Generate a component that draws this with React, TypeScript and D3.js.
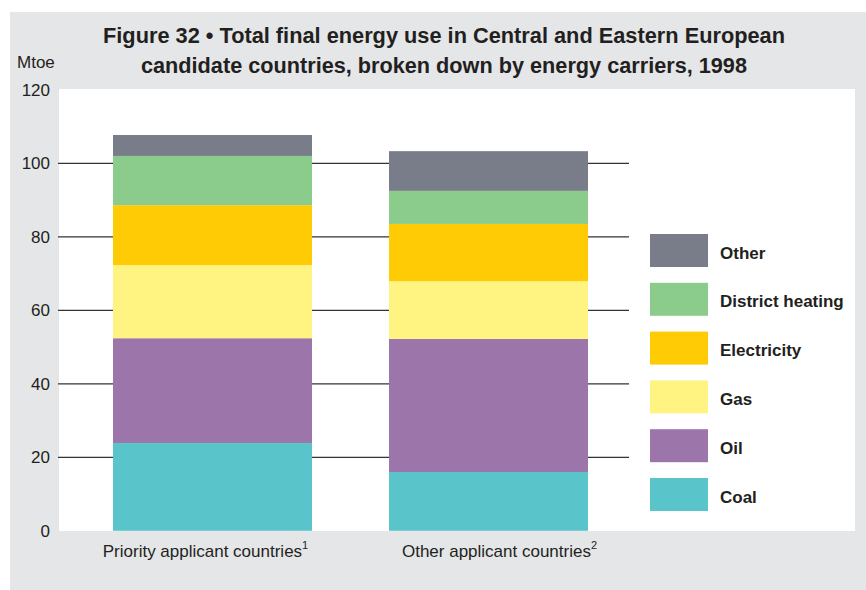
import React from "react";
import * as d3 from "d3";

const categories = ["Priority applicant countries", "Other applicant countries"];
const superscripts = ["1", "2"];
const carriers = ["Coal", "Oil", "Gas", "Electricity", "District heating", "Other"];
const coal = [23.9, 16.0];
const oil = [28.5, 36.2];
const gas = [19.9, 15.7];
const electricity = [16.3, 15.6];
const districtHeating = [13.4, 9.0];
const other = [5.7, 10.8];
const yTicks = [0, 20, 40, 60, 80, 100, 120];
const colors = ["#59c5ca", "#9c75aa", "#fff482", "#ffcb05", "#8bcb8c", "#797d8a"];
const titleLines = [
  "Figure 32 \u2022 Total final energy use in Central and Eastern European",
  "candidate countries, broken down by energy carriers, 1998",
];

const W = 866;
const H = 590;

export default function App() {
  const seriesValues = [coal, oil, gas, electricity, districtHeating, other];
  const rows = categories.map((c, i) => {
    const r: any = { category: c };
    carriers.forEach((k, j) => (r[k] = seriesValues[j][i]));
    return r;
  });
  const stack = d3.stack<any>().keys(carriers)(rows);

  const y = d3.scaleLinear().domain([0, 120]).range([530.8, 89.8]);
  const x = d3.scaleBand().domain(categories).range([57.8, 643.2]).paddingInner(0.279).paddingOuter(0.2);

  const color = d3.scaleOrdinal<string, string>().domain(carriers).range(colors);
  const legendOrder = carriers.slice().reverse();
  const textColor = "#231f20";
  const font = "Arial, 'Liberation Sans', Helvetica, sans-serif";
  const labelShift = [-7, 11];

  return (
    <svg width={W} height={H} style={{ position: "absolute", left: 0, top: 0 }}>
      <rect x={10} y={12} width={W - 10} height={H - 12} fill="#e5e6e8" />
      <rect x={59} y={89} width={796} height={442} fill="#ffffff" />
      {titleLines.map((t, i) => (
        <text
          key={i}
          x={444}
          y={43 + i * 30}
          textAnchor="middle"
          fontFamily="'Liberation Sans Narrow', 'Arial Narrow', Arial, sans-serif"
          fontWeight="bold"
          fontSize={22}
          fill={textColor}
          textLength={i === 0 ? 682 : 606}
          lengthAdjust="spacingAndGlyphs"
        >
          {t}
        </text>
      ))}
      <text x={17} y={68} fontFamily={font} fontSize={17} fill={textColor}>Mtoe</text>
      {yTicks.map((t) => (
        <g key={t}>
          <text x={50} y={y(t) + 6} textAnchor="end" fontFamily={font} fontSize={17} fill={textColor}>{t}</text>
          {t > 0 && t < 120 && (
            <line x1={58} x2={629} y1={y(t)} y2={y(t)} stroke="#333" strokeWidth={1.3} />
          )}
        </g>
      ))}
      {stack.map((s) => (
        <g key={s.key} fill={color(s.key)}>
          {s.map((d, i) => (
            <rect
              key={i}
              x={x(categories[i])}
              width={x.bandwidth()}
              y={y(d[1])}
              height={y(d[0]) - y(d[1])}
            />
          ))}
        </g>
      ))}
      {categories.map((c, i) => (
        <text
          key={c}
          x={(x(c) as number) + x.bandwidth() / 2 + labelShift[i]}
          y={557}
          textAnchor="middle"
          fontFamily={font}
          fontSize={17}
          fill={textColor}
        >
          {c}
          <tspan dy={-8} fontSize={11}>{superscripts[i]}</tspan>
        </text>
      ))}
      {legendOrder.map((k, i) => (
        <g key={k} transform={`translate(650, ${234 + i * 48.8})`}>
          <rect width={58} height={33} fill={color(k)} />
          <text x={70} y={24.5} fontFamily={font} fontWeight="bold" fontSize={17} fill={textColor}>{k}</text>
        </g>
      ))}
    </svg>
  );
}
